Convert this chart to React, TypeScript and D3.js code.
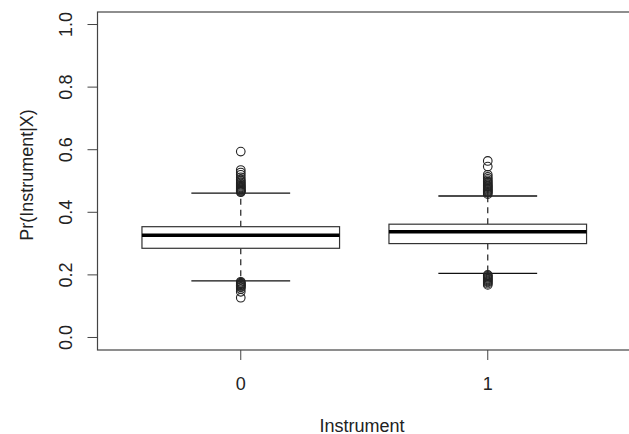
import React, { useEffect, useRef } from 'react';
import * as d3 from 'd3';

// box statistics, one entry per group
const groups = ['0', '1'];
const lowerWhisker = [0.181, 0.205];
const q1 = [0.285, 0.3];
const medians = [0.3265, 0.338];
const q3 = [0.354, 0.362];
const upperWhisker = [0.461, 0.452];

const outliers0 = [
  0.594, 0.535, 0.527, 0.52, 0.512, 0.505, 0.5, 0.496, 0.492, 0.488, 0.485, 0.482,
  0.479, 0.476, 0.473, 0.47, 0.468, 0.466, 0.464,
  0.178, 0.175, 0.172, 0.17, 0.167, 0.165, 0.162, 0.16, 0.155, 0.146, 0.127,
];
const outliers1 = [
  0.564, 0.546, 0.52, 0.513, 0.507, 0.502, 0.498, 0.494, 0.49, 0.486, 0.483, 0.48,
  0.477, 0.474, 0.471, 0.468, 0.465, 0.462, 0.458,
  0.2, 0.197, 0.194, 0.191, 0.188, 0.185, 0.182, 0.179, 0.176, 0.172, 0.168,
];

const yTicks = [0, 0.2, 0.4, 0.6, 0.8, 1.0];
const yTickLabels = ['0.0', '0.2', '0.4', '0.6', '0.8', '1.0'];

const W = 629;
const H = 434;
const FONT = '"Liberation Sans", Arial, Helvetica, sans-serif';

export default function App() {
  const ref = useRef<SVGSVGElement>(null);

  useEffect(() => {
    const svg = d3.select(ref.current);
    svg.selectAll('*').remove();

    const left = 97.5;
    const x = d3.scaleLinear().domain([0.42, 2.58]).range([left, left + 2.16 * 247]);
    const y = d3.scaleLinear().domain([-0.04, 1.04]).range([350, 12]);

    svg.append('rect').attr('width', W).attr('height', H).attr('fill', '#fff');

    const outliers = [outliers0, outliers1];
    const boxW = 0.8;
    const capW = 0.4;

    groups.forEach((g, i) => {
      const cx = i + 1;
      const grp = svg.append('g');

      // dashed whiskers
      grp.append('line')
        .attr('x1', x(cx)).attr('x2', x(cx))
        .attr('y1', y(q3[i])).attr('y2', y(upperWhisker[i]))
        .attr('stroke', '#222').attr('stroke-width', 1.2)
        .attr('stroke-dasharray', '6,5');
      grp.append('line')
        .attr('x1', x(cx)).attr('x2', x(cx))
        .attr('y1', y(q1[i])).attr('y2', y(lowerWhisker[i]))
        .attr('stroke', '#222').attr('stroke-width', 1.2)
        .attr('stroke-dasharray', '6,5');

      // staples
      [lowerWhisker[i], upperWhisker[i]].forEach((v) => {
        grp.append('line')
          .attr('x1', x(cx - capW / 2)).attr('x2', x(cx + capW / 2))
          .attr('y1', y(v)).attr('y2', y(v))
          .attr('stroke', '#111').attr('stroke-width', 1.3);
      });

      // box
      grp.append('rect')
        .attr('x', x(cx - boxW / 2))
        .attr('y', y(q3[i]))
        .attr('width', x(cx + boxW / 2) - x(cx - boxW / 2))
        .attr('height', y(q1[i]) - y(q3[i]))
        .attr('fill', '#fff')
        .attr('stroke', '#333').attr('stroke-width', 1.2);

      // median
      grp.append('line')
        .attr('x1', x(cx - boxW / 2)).attr('x2', x(cx + boxW / 2))
        .attr('y1', y(medians[i])).attr('y2', y(medians[i]))
        .attr('stroke', '#000').attr('stroke-width', 3.5);

      grp.selectAll('circle.out')
        .data(outliers[i])
        .enter()
        .append('circle')
        .attr('class', 'out')
        .attr('cx', x(cx))
        .attr('cy', (d: number) => y(d))
        .attr('r', 4.3)
        .attr('fill', 'none')
        .attr('stroke', '#222')
        .attr('stroke-width', 1.1);
    });

    // frame
    svg.append('rect')
      .attr('x', x(0.42)).attr('y', y(1.04))
      .attr('width', x(2.58) - x(0.42))
      .attr('height', y(-0.04) - y(1.04))
      .attr('fill', 'none').attr('stroke', '#444').attr('stroke-width', 1.2);

    // y axis ticks + labels
    yTicks.forEach((t, i) => {
      svg.append('line')
        .attr('x1', x(0.42) - 10).attr('x2', x(0.42))
        .attr('y1', y(t)).attr('y2', y(t))
        .attr('stroke', '#444').attr('stroke-width', 1);
      svg.append('text')
        .attr('transform', 'translate(72,' + y(t) + ') rotate(-90)')
        .attr('text-anchor', 'middle')
        .attr('font-family', FONT).attr('font-size', 18).attr('fill', '#222')
        .text(yTickLabels[i]);
    });

    // x axis ticks + labels
    groups.forEach((g, i) => {
      svg.append('line')
        .attr('x1', x(i + 1)).attr('x2', x(i + 1))
        .attr('y1', 350).attr('y2', 360)
        .attr('stroke', '#444').attr('stroke-width', 1);
      svg.append('text')
        .attr('x', x(i + 1)).attr('y', 389.5)
        .attr('text-anchor', 'middle')
        .attr('font-family', FONT).attr('font-size', 18).attr('fill', '#222')
        .text(g);
    });

    svg.append('text')
      .attr('x', 362).attr('y', 431.5)
      .attr('text-anchor', 'middle')
      .attr('font-family', FONT).attr('font-size', 18).attr('fill', '#222')
      .text('Instrument');

    svg.append('text')
      .attr('transform', 'translate(33,175) rotate(-90)')
      .attr('text-anchor', 'middle')
      .attr('font-family', FONT).attr('font-size', 18).attr('fill', '#222')
      .text('Pr(Instrument|X)');
  }, []);

  return (
    <svg
      ref={ref}
      width={W}
      height={H}
      style={{ position: 'absolute', left: 0, top: 0, display: 'block' }}
    />
  );
}
